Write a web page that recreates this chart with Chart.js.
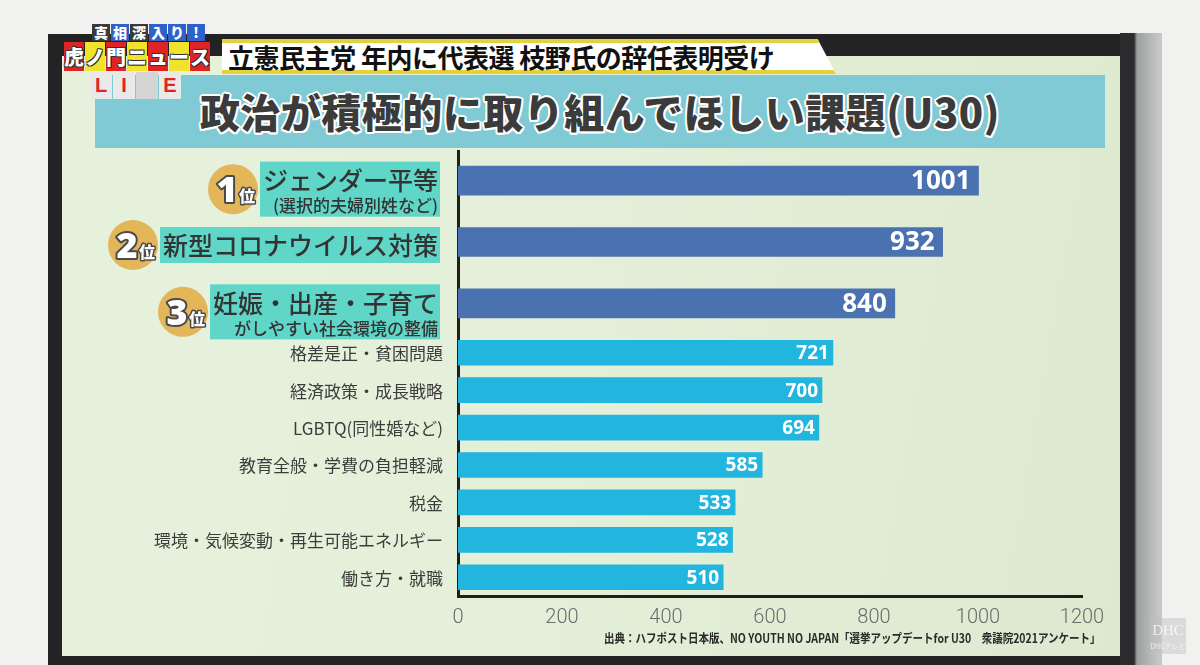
<!DOCTYPE html>
<html lang="ja">
<head>
<meta charset="utf-8">
<title>政治が積極的に取り組んでほしい課題(U30)</title>
<script src="https://cdn.jsdelivr.net/npm/chart.js@4.4.1/dist/chart.umd.min.js"></script>
<style>
  html, body { margin: 0; padding: 0; }
  body {
    width: 1200px; height: 665px; overflow: hidden; position: relative;
    background: #f1f1f0;
    font-family: "Noto Sans CJK JP", "Noto Sans", sans-serif;
  }
  #edge { position: absolute; left: 1120px; top: 33px; width: 42px; height: 632px;
    background: linear-gradient(90deg, #2c2c2e 0, #2c2c2e 14px, #9fa1a0 17px, #c6c8c7 40px); }
  #bezel { position: absolute; left: 48px; top: 34px; width: 1088px; height: 631px; background: #232326; }
  #screen { position: absolute; left: 62px; top: 56px; width: 1058px; height: 600px;
    background: linear-gradient(100deg, #e7f2de 0%, #e3efd8 50%, #dde9cf 100%); }
  #banner { position: absolute; left: 95px; top: 75px; width: 1010px; height: 73px; background: #80cad5; }
  #title { position: absolute; left: 95px; top: 75px; width: 1010px; height: 73px; line-height: 73px;
    text-align: center; font-size: 40px; font-weight: 900; color: #3b3b3b; letter-spacing: 0.5px;
    text-shadow: 2px 0 #fff, -2px 0 #fff, 0 2px #fff, 0 -2px #fff, 1.5px 1.5px #fff, -1.5px 1.5px #fff, 1.5px -1.5px #fff, -1.5px -1.5px #fff; }
  #headline { position: absolute; left: 222px; top: 39px; width: 608px; height: 27px;
    background: #fff; border-top: 4px solid #e4d23c; border-bottom: 4px solid #e4d23c;
    clip-path: polygon(0 0, 97% 0, 100% 100%, 0 100%);
    font-size: 26px; font-weight: 700; color: #111; line-height: 27px; padding-left: 6px; white-space: nowrap;
    letter-spacing: -0.5px; }
  #logo { position: absolute; left: 64px; top: 22px; }
  .row { position: absolute; display: flex; }
  .row span { display: block; text-align: center; color: #fff; font-weight: 900; }
  #r1 { left: 28px; top: 2px; }
  #r1 span { width: 18px; height: 17px; font-size: 14px; line-height: 17px; margin-right: 1px; }
  #r2 { left: 0; top: 20px; }
  #r2 span { width: 20px; height: 29px; font-size: 20px; line-height: 29px; margin-right: 1px;
    text-shadow: 1px 1px #333, -1px 1px #333, 1px -1px #333, -1px -1px #333; }
  #r3 { left: 26px; top: 50px; }
  #r3 span { width: 22px; height: 27px; font-size: 20px; line-height: 27px; margin-right: 1px;
    background: #e9e9e9; color: #e02424; font-family: "Liberation Sans", sans-serif; }
  #topChart { position: absolute; left: 0; top: 150px; width: 1200px; height: 204px; }
  #bottomChart { position: absolute; left: 0; top: 334px; width: 1200px; height: 331px; }
  #source { position: absolute; left: 604px; top: 628px; font-size: 12.5px; font-weight: 700; color: #2a2a2a;
    white-space: nowrap; transform: scaleX(0.84); transform-origin: left; }
  #mark { position: absolute; left: 1150px; top: 618px; width: 36px; height: 36px; text-align: center;
    color: rgba(255,255,255,0.75); font-family: "Liberation Serif", serif; font-size: 15px; line-height: 24px;
    background: rgba(190,190,190,0.45); }
  #mark small { display: block; font-size: 7px; line-height: 8px; font-family: "Noto Sans CJK JP", sans-serif; }
</style>
</head>
<body>
<div id="bezel"></div>
<div id="edge"></div>
<div id="screen"></div>
<div id="banner"></div>
<div id="title">政治が積極的に取り組んでほしい課題(U30)</div>
<div id="headline">立憲民主党 年内に代表選 枝野氏の辞任表明受け</div>
<div id="logo">
  <div class="row" id="r1">
    <span style="background:#3a3a3a">真</span><span style="background:#2f62c8">相</span><span style="background:#3a3a3a">深</span><span style="background:#2f62c8">入</span><span style="background:#2f62c8">り</span><span style="background:#2f62c8">!</span>
  </div>
  <div class="row" id="r2">
    <span style="background:#e02424">虎</span><span style="background:#f1e22c">ノ</span><span style="background:#e02424">門</span><span style="background:#f1e22c">ニ</span><span style="background:#e02424">ュ</span><span style="background:#f1e22c">ー</span><span style="background:#e02424">ス</span>
  </div>
  <div class="row" id="r3">
    <span>L</span><span>I</span><span style="background:#d5d5d5"></span><span>E</span>
  </div>
</div>
<div id="topChart"><canvas id="topCanvas"></canvas></div>
<div id="bottomChart"><canvas id="bottomCanvas"></canvas></div>
<div id="source">出典：ハフポスト日本版、NO YOUTH NO JAPAN「選挙アップデートfor U30　衆議院2021アンケート」</div>
<div id="mark">DHC<small>DHCテレビ</small></div>

<script>
// 政治が積極的に取り組んでほしい課題 (U30) - votes
const categories = [
    "ジェンダー平等",
    "新型コロナウイルス対策",
    "妊娠・出産・子育て",
    "格差是正・貧困問題",
    "経済政策・成長戦略",
    "LGBTQ(同性婚など)",
    "教育全般・学費の負担軽減",
    "税金",
    "環境・気候変動・再生可能エネルギー",
    "働き方・就職"
];
const subLabels = ["(選択的夫婦別姓など)", "", "がしやすい社会環境の整備"];
const ranks = ["1", "2", "3"];
const votes = [1001, 932, 840, 721, 700, 694, 585, 533, 528, 510];
const xTicks = [0, 200, 400, 600, 800, 1000, 1200];

const topCount = ranks.length;
const JP = '"Noto Sans CJK JP", sans-serif';

// white numbers at the end of each bar
const valueLabels = {
    id: "valueLabels",
    afterDatasetsDraw(chart, args, opts) {
        const ctx = chart.ctx;
        const meta = chart.getDatasetMeta(0);
        const values = chart.data.datasets[0].data;
        ctx.save();
        ctx.font = "bold " + opts.size + 'px "Noto Sans", sans-serif';
        ctx.fillStyle = "#ffffff";
        ctx.textAlign = "right";
        ctx.textBaseline = "middle";
        meta.data.forEach((bar, i) => {
            ctx.fillText(values[i], bar.x - opts.inset, bar.y + 1);
        });
        ctx.restore();
    }
};

// big highlighted labels with the rank medals
const rankLabels = {
    id: "rankLabels",
    afterDraw(chart) {
        const { ctx, chartArea, scales } = chart;
        const right = chartArea.left - 18;
        ctx.save();
        chart.data.labels.forEach((name, i) => {
            const cy = scales.y.getPixelForValue(i);
            const sub = subLabels[i];
            const mainY = sub ? cy : cy + 3;
            ctx.font = "500 25px " + JP;
            const w1 = ctx.measureText(name).width;
            ctx.font = "500 17px " + JP;
            const w2 = sub ? ctx.measureText(sub).width : 0;
            const w = Math.max(w1, w2) + 5;
            const top = sub ? cy - 19 : cy - 15;
            const h = sub ? 55 : 36;

            ctx.fillStyle = "#5fd6c7";
            ctx.fillRect(right - w, top, w, h);

            ctx.fillStyle = "#333333";
            ctx.textAlign = "right";
            ctx.textBaseline = "middle";
            ctx.font = "500 25px " + JP;
            ctx.fillText(name, right - 2, mainY);
            if (sub) {
                ctx.font = "500 17px " + JP;
                ctx.fillText(sub, right - 2, cy + 25);
            }

            // medal
            const cx = right - w - 27;
            const my = top + h / 2;
            ctx.beginPath();
            ctx.arc(cx, my, 25, 0, Math.PI * 2);
            ctx.fillStyle = "#e3b65a";
            ctx.fill();
            ctx.lineJoin = "round";
            ctx.strokeStyle = "#4a4a4a";
            ctx.fillStyle = "#ffffff";
            ctx.textAlign = "center";
            ctx.textBaseline = "alphabetic";
            ctx.font = '900 36px "Noto Sans", sans-serif';
            ctx.lineWidth = 4;
            ctx.strokeText(ranks[i], cx - 6, my + 13);
            ctx.fillText(ranks[i], cx - 6, my + 13);
            ctx.font = "900 16px " + JP;
            ctx.lineWidth = 3;
            ctx.strokeText("位", cx + 14, my + 13);
            ctx.fillText("位", cx + 14, my + 13);
        });
        ctx.restore();
    }
};

// plain grey labels for the rest
const plainLabels = {
    id: "plainLabels",
    afterDraw(chart) {
        const { ctx, chartArea, scales } = chart;
        ctx.save();
        ctx.font = "17px " + JP;
        ctx.fillStyle = "#3c3c3c";
        ctx.textAlign = "right";
        ctx.textBaseline = "middle";
        chart.data.labels.forEach((name, i) => {
            ctx.fillText(name, chartArea.left - 15, scales.y.getPixelForValue(i) + 1);
        });
        ctx.restore();
    }
};

function makeOptions(showX, bottomPad, valueSize, inset) {
    return {
        indexAxis: "y",
        responsive: true,
        maintainAspectRatio: false,
        animation: false,
        layout: { padding: { left: 458, right: 118, top: 0, bottom: bottomPad } },
        plugins: {
            legend: { display: false },
            tooltip: { enabled: false },
            valueLabels: { size: valueSize, inset: inset }
        },
        scales: {
            x: {
                display: showX,
                min: xTicks[0],
                max: xTicks[xTicks.length - 1],
                afterBuildTicks: (scale) => { scale.ticks = xTicks.map(v => ({ value: v })); },
                grid: { display: false, drawTicks: false },
                border: { display: true, color: "#1e1e1e", width: 3 },
                ticks: {
                    color: "#6a6a6a",
                    padding: 10,
                    callback: (v) => String(v),
                    font: { family: '"Roboto", sans-serif', size: 20, weight: "300" }
                }
            },
            y: {
                ticks: { display: false },
                grid: { display: false, drawTicks: false },
                border: { display: true, color: "#1e1e1e", width: 3 }
            }
        }
    };
}

new Chart(document.getElementById("topCanvas"), {
    type: "bar",
    data: {
        labels: categories.slice(0, topCount),
        datasets: [{
            data: votes.slice(0, topCount),
            backgroundColor: "#4b72b0",
            barThickness: 29
        }]
    },
    options: makeOptions(false, 20, 26, 8),
    plugins: [valueLabels, rankLabels]
});

new Chart(document.getElementById("bottomCanvas"), {
    type: "bar",
    data: {
        labels: categories.slice(topCount),
        datasets: [{
            data: votes.slice(topCount),
            backgroundColor: "#22b5dd",
            barThickness: 25
        }]
    },
    options: makeOptions(true, 25, 19, 4),
    plugins: [valueLabels, plainLabels]
});
</script>
</body>
</html>
